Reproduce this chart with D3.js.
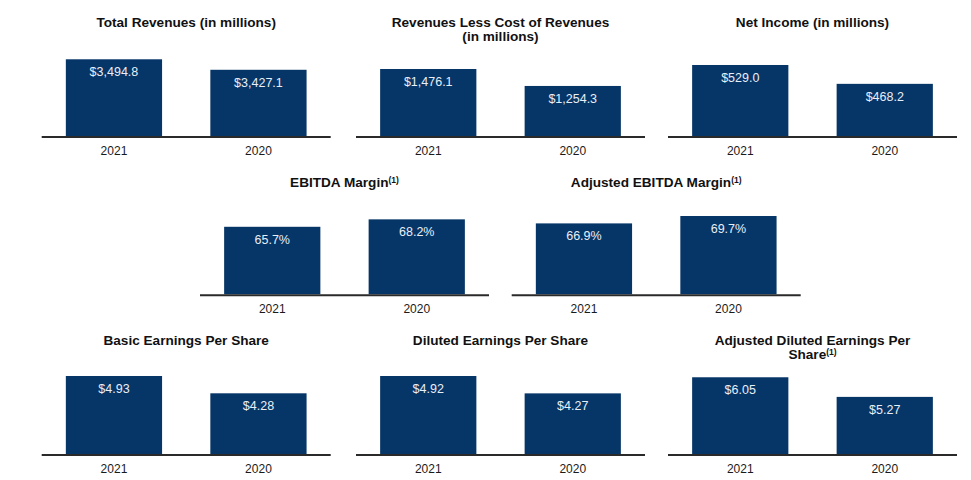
<!DOCTYPE html>
<html>
<head>
<meta charset="utf-8">
<script src="https://cdn.jsdelivr.net/npm/d3@7"></script>
<style>
  html, body { margin: 0; padding: 0; background: #ffffff; }
  svg { display: block; font-family: "Liberation Sans", Arial, sans-serif; }
</style>
</head>
<body>
<svg id="chart" width="971" height="480"></svg>
<script>
// ---- Data ----
const years = ["2021", "2020"];

const titles = [
  ["Total Revenues (in millions)"],
  ["Revenues Less Cost of Revenues", "(in millions)"],
  ["Net Income (in millions)"],
  ["EBITDA Margin|(1)"],
  ["Adjusted EBITDA Margin|(1)"],
  ["Basic Earnings Per Share"],
  ["Diluted Earnings Per Share"],
  ["Adjusted Diluted Earnings Per", "Share|(1)"]
];

const totalRevenues = [3494.8, 3427.1];
const revenuesLessCost = [1476.1, 1254.3];
const netIncome = [529.0, 468.2];
const ebitdaMargin = [65.7, 68.2];
const adjEbitdaMargin = [66.9, 69.7];
const basicEPS = [4.93, 4.28];
const dilutedEPS = [4.92, 4.27];
const adjDilutedEPS = [6.05, 5.27];

const seriesValues = [totalRevenues, revenuesLessCost, netIncome, ebitdaMargin,
                      adjEbitdaMargin, basicEPS, dilutedEPS, adjDilutedEPS];

const valueLabels = [
  ["$3,494.8", "$3,427.1"],
  ["$1,476.1", "$1,254.3"],
  ["$529.0", "$468.2"],
  ["65.7%", "68.2%"],
  ["66.9%", "69.7%"],
  ["$4.93", "$4.28"],
  ["$4.92", "$4.27"],
  ["$6.05", "$5.27"]
];

// value-axis domains (axes are truncated in the original)
const axisMin = [3000, 600, 300, 43, 40, 2, 2, 3];
const axisMax = [3516, 1646, 558, 69.9, 70.35, 5.005, 4.995, 6.18];

// ---- Layout ----
const panelLeft = [41.7, 356, 668, 200, 511.7, 41.7, 356, 668];
const panelWidth = 289;
const rowBase = [136, 294.3, 454];
const rowTitle = [26.5, 186.5, 344.5];
const panelRow = [0, 0, 0, 1, 1, 2, 2, 2];
const barRange = 80;

const barColor = "#063567";
const svg = d3.select("#chart");

seriesValues.forEach((vals, i) => {
  const left = panelLeft[i];
  const base = rowBase[panelRow[i]];
  const g = svg.append("g");

  const x = d3.scaleBand().domain(years)
    .range([left, left + panelWidth])
    .paddingInner(0.334).paddingOuter(0.167);
  const y = d3.scaleLinear().domain([axisMin[i], axisMax[i]])
    .range([base, base - barRange]);

  const data = years.map((yr, j) => ({ yr, v: vals[j], label: valueLabels[i][j] }));

  g.selectAll("rect").data(data).join("rect")
    .attr("x", d => x(d.yr))
    .attr("width", x.bandwidth())
    .attr("y", d => y(d.v))
    .attr("height", d => base - y(d.v))
    .attr("fill", barColor);

  g.selectAll("text.val").data(data).join("text")
    .attr("class", "val")
    .attr("x", d => x(d.yr) + x.bandwidth() / 2)
    .attr("y", d => y(d.v) + 17)
    .attr("text-anchor", "middle")
    .attr("font-size", 12.5)
    .attr("fill", "#e9eff8")
    .text(d => d.label);

  // baseline axis
  const axis = g.append("g")
    .attr("transform", `translate(0,${base + 1})`)
    .call(d3.axisBottom(x).tickSize(0).tickPadding(9));
  axis.select(".domain")
    .attr("d", `M${left},0H${left + panelWidth}`)
    .attr("stroke", "#2a2a2a").attr("stroke-width", 2);
  axis.selectAll(".tick text")
    .attr("font-size", 12)
    .attr("font-family", "'Liberation Sans', Arial, sans-serif")
    .attr("fill", "#1a1a1a");

  // title
  const cx = left + panelWidth / 2;
  const t = g.append("text")
    .attr("text-anchor", "middle")
    .attr("font-size", 13.6)
    .attr("font-weight", "bold")
    .attr("fill", "#111");
  titles[i].forEach((line, k) => {
    const parts = line.split("|");
    t.append("tspan")
      .attr("x", cx)
      .attr("y", rowTitle[panelRow[i]] + k * 14)
      .text(parts[0]);
    if (parts[1]) {
      t.append("tspan")
        .attr("font-size", 8.5)
        .attr("dy", -4)
        .text(parts[1]);
    }
  });
});
</script>
</body>
</html>
